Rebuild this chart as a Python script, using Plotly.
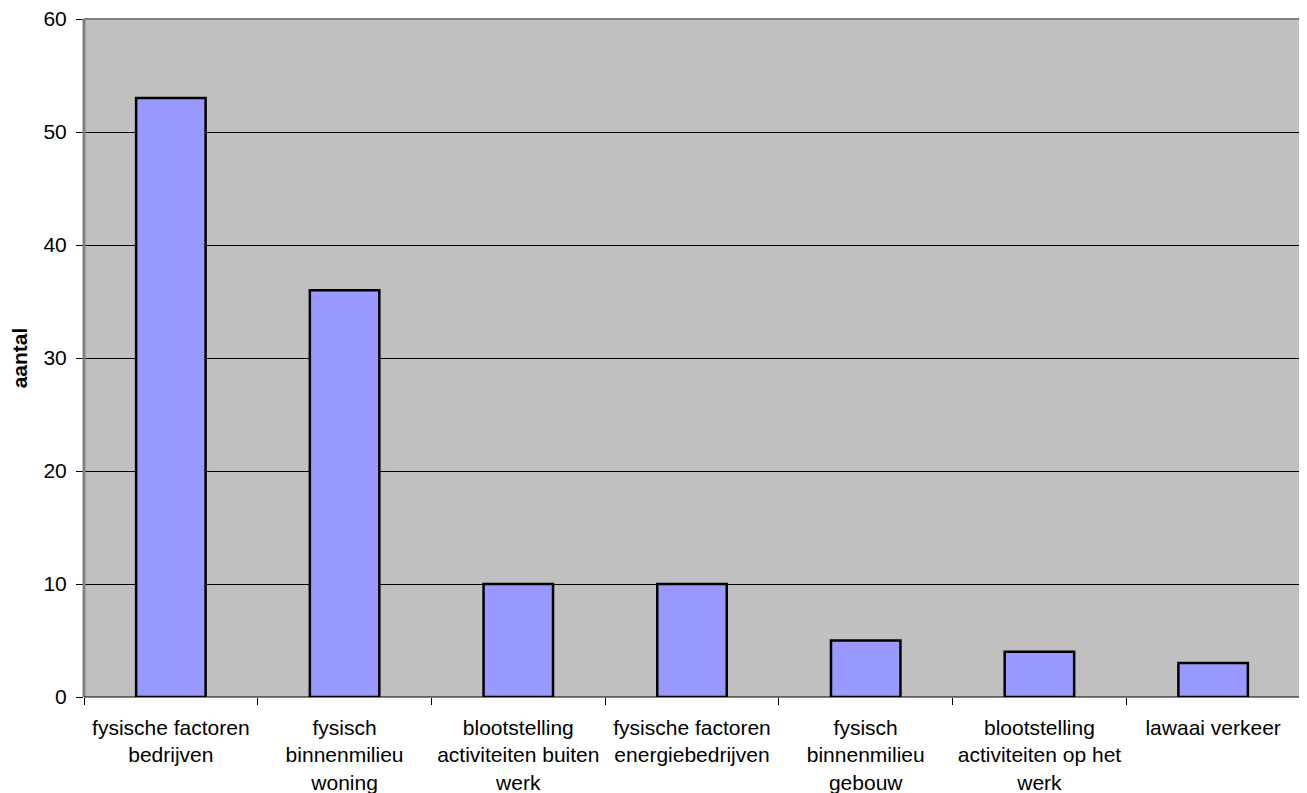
import plotly.graph_objects as go

categories = [
    "fysische factoren<br>bedrijven",
    "fysisch<br>binnenmilieu<br>woning",
    "blootstelling<br>activiteiten buiten<br>werk",
    "fysische factoren<br>energiebedrijven",
    "fysisch<br>binnenmilieu<br>gebouw",
    "blootstelling<br>activiteiten op het<br>werk",
    "lawaai verkeer",
]
values = [53, 36, 10, 10, 5, 4, 3]
y_ticks = [0, 10, 20, 30, 40, 50, 60]

FONT = "Liberation Sans, Arial, sans-serif"

fig = go.Figure(
    go.Bar(
        x=categories,
        y=values,
        width=0.4,
        marker=dict(color="#9999FF", line=dict(color="black", width=2.5)),
    )
)

fig.update_layout(
    width=1299,
    height=785,
    margin=dict(l=76, r=7, t=11, b=96),
    paper_bgcolor="white",
    plot_bgcolor="#C0C0C0",
    font=dict(family=FONT, size=21, color="black"),
    showlegend=False,
    bargap=0.6,
    shapes=[
        dict(type="line", xref="paper", yref="paper", x0=0, x1=1, y0=1, y1=1,
             line=dict(color="#808080", width=2), layer="above"),
        dict(type="line", xref="paper", yref="paper", x0=0, x1=0, y0=0, y1=1,
             line=dict(color="#808080", width=3), layer="above"),
        dict(type="line", xref="paper", yref="paper", x0=1, x1=1, y0=0, y1=1,
             line=dict(color="#808080", width=2), layer="above"),
        dict(type="line", xref="paper", yref="paper", x0=0, x1=1, y0=0, y1=0,
             line=dict(color="black", width=1), layer="above"),
    ],
)

fig.update_xaxes(
    type="category",
    showgrid=False,
    ticks="outside",
    tickson="boundaries",
    ticklen=7,
    tickcolor="black",
    tickwidth=1,
    showline=False,
    automargin=False,
    ticklabelstandoff=16,
    ticklabeloverflow="allow",
    tickfont=dict(family=FONT, size=21),
)

fig.update_yaxes(
    range=[0, 60],
    tickvals=y_ticks,
    ticks="outside",
    ticklen=7,
    tickcolor="black",
    tickwidth=1,
    showgrid=True,
    gridcolor="black",
    gridwidth=1,
    zeroline=False,
    showline=False,
    automargin=False,
    ticklabelstandoff=5,
    ticklabeloverflow="allow",
    tickfont=dict(family=FONT, size=21),
    title=dict(text="<b>aantal</b>", font=dict(family=FONT, size=21), standoff=13),
)

fig.write_html("out.html")
